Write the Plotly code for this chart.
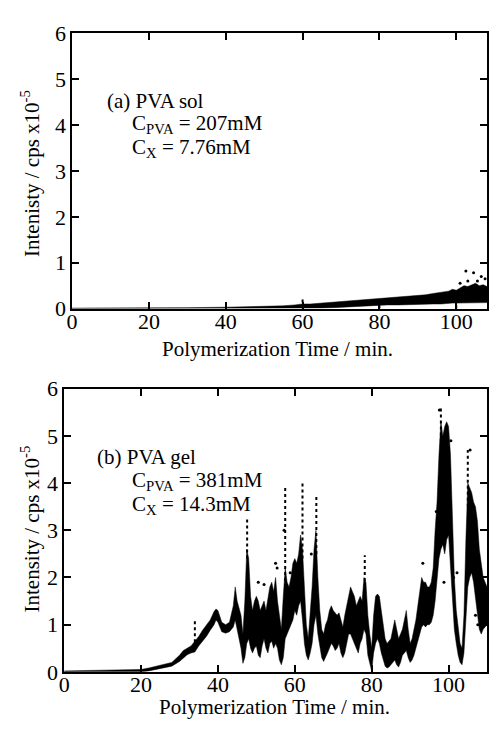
import plotly.graph_objects as go

# ---------------- data: panel (a) PVA sol ----------------
time_a = [0, 10, 20, 30, 40, 45, 50, 55, 58, 60, 62, 65, 68, 70, 72, 75, 78, 80, 82, 85, 88, 90,
          92, 94, 96, 98, 99, 100, 101, 102, 103, 104, 105, 106, 107, 108]
hi_a = [0.01, 0.01, 0.015, 0.02, 0.03, 0.035, 0.05, 0.06, 0.08, 0.1, 0.1, 0.12, 0.14, 0.15, 0.16, 0.18,
        0.2, 0.22, 0.22, 0.25, 0.27, 0.28, 0.3, 0.33, 0.35, 0.38, 0.42, 0.4, 0.45, 0.5, 0.48, 0.52,
        0.55, 0.5, 0.52, 0.48]
lo_a = [0.0, 0.0, 0.0, 0.0, 0.0, 0.0, 0.0, 0.0, 0.0, 0.0, 0.0, 0.01, 0.02, 0.03, 0.04, 0.05,
        0.06, 0.07, 0.08, 0.08, 0.09, 0.1, 0.1, 0.1, 0.1, 0.12, 0.12, 0.12, 0.12, 0.13, 0.13, 0.13,
        0.13, 0.13, 0.13, 0.13]
spike_a_x = [60, 80, 100]
spike_a_lo = [0.0, 0.0, 0.0]
spike_a_hi = [0.2, 0.25, 0.35]
out_a_x = [101.0, 102.5, 103.0, 104.5, 106.5, 107.5, 105.5]
out_a_y = [0.55, 0.82, 0.6, 0.78, 0.7, 0.65, 0.6]

# ---------------- data: panel (b) PVA gel ----------------
time_b = [0, 5, 10, 15, 20, 22, 24, 26, 28, 30, 31, 32, 33, 34, 35, 36, 37, 38, 39, 39.5, 40, 41, 42,
          43, 44, 44.5, 45, 46, 46.5, 47, 47.5, 48, 48.5, 49, 49.5, 50, 50.5, 51, 51.5, 52, 52.5,
          53, 53.5, 54, 54.5, 55, 55.5, 56, 56.5, 57, 57.5, 58, 58.5, 59, 59.5, 60, 60.5, 61, 61.5,
          62, 62.5, 63, 63.5, 64, 64.5, 65, 65.5, 66, 66.5, 67, 67.5, 68, 68.5, 69, 69.5, 70, 70.5,
          71, 71.5, 72, 72.5, 73, 73.5, 74, 74.5, 75, 75.5, 76, 76.5, 77, 77.5, 78, 78.5, 79, 79.5,
          80, 80.5, 81, 81.5, 82, 82.5, 83, 83.5, 84, 84.5, 85, 85.5, 86, 86.5, 87, 87.5, 88, 88.5,
          89, 89.5, 90, 90.5, 91, 91.5, 92, 92.5, 93, 93.5, 94, 94.5, 95, 95.5, 96, 96.5, 97, 97.5,
          98, 98.5, 99, 99.5, 100, 100.5, 101, 101.5, 102, 102.5, 103, 103.5, 104, 104.5, 105,
          105.5, 106, 106.5, 107, 107.5, 108, 108.5, 109, 110]
hi_b = [0.02, 0.03, 0.03, 0.04, 0.05, 0.08, 0.12, 0.16, 0.2, 0.35, 0.45, 0.5, 0.55, 0.65, 0.75,
        0.88, 0.98, 1.1, 1.28, 1.33, 1.3, 1.05, 1.0, 1.05, 1.4, 1.8, 1.5, 1.2, 0.8, 1.5, 2.6, 2.4,
        1.6, 1.3, 1.5, 1.6, 1.5, 1.3, 1.4, 1.5, 1.3, 1.6, 1.8, 1.9, 1.7, 2.0, 1.5, 1.2, 0.9, 1.6,
        2.2, 1.9, 1.8, 2.0, 2.3, 2.4, 2.3, 2.5, 2.9, 2.6, 1.8, 1.0, 0.7, 1.2, 1.8, 2.6, 3.0, 2.0,
        1.3, 0.9, 0.8, 1.0, 1.1, 1.3, 1.4, 1.3, 1.25, 1.2, 1.25, 1.1, 0.95, 1.2, 1.4, 1.6, 1.8,
        1.7, 1.6, 1.4, 1.5, 1.6, 1.5, 2.0, 1.9, 1.2, 0.8, 0.5, 1.2, 1.6, 1.65, 1.6, 1.3, 1.0, 0.7,
        0.6, 0.65, 0.7, 0.9, 1.1, 0.9, 0.7, 0.8, 0.9, 1.1, 1.3, 0.9, 0.6, 0.7, 0.9, 1.1, 1.4, 1.7,
        2.0, 1.9, 1.9, 1.8, 1.8, 1.9, 2.2, 3.0, 3.6, 4.6, 5.3, 5.0, 5.2, 5.3, 5.2, 4.6, 3.2, 2.0,
        1.3, 0.9, 0.6, 0.5, 1.2, 2.8, 4.0, 3.9, 3.8, 3.6, 3.5, 3.2, 2.6, 2.3, 2.0, 1.8]
lo_b = [0.0, 0.0, 0.0, 0.0, 0.0, 0.02, 0.05, 0.09, 0.12, 0.22, 0.3, 0.36, 0.4, 0.42, 0.55, 0.65,
        0.75, 0.88, 1.0, 1.1, 1.05, 0.85, 0.82, 0.85, 0.95, 1.1, 0.9, 0.5, 0.18, 0.3, 0.6, 0.7,
        0.5, 0.4, 0.5, 0.55, 0.35, 0.3, 0.55, 0.7, 0.5, 0.4, 0.6, 0.65, 0.5, 0.6, 0.5, 0.25, 0.15,
        0.3, 0.7, 0.8, 0.9, 1.0, 1.1, 1.3, 1.2, 1.4, 1.5, 1.1, 0.6, 0.35, 0.25, 0.4, 0.6, 1.0, 1.2,
        0.8, 0.5, 0.3, 0.22, 0.3, 0.4, 0.5, 0.6, 0.55, 0.45, 0.5, 0.6, 0.4, 0.3, 0.4, 0.6, 0.8,
        0.8, 0.7, 0.6, 0.5, 0.4, 0.6, 0.7, 0.9, 0.8, 0.35, 0.2, 0.02, 0.4, 0.6, 0.7, 0.6, 0.4, 0.25,
        0.12, 0.08, 0.1, 0.15, 0.2, 0.25, 0.15, 0.1, 0.2, 0.35, 0.4, 0.45, 0.3, 0.2, 0.25, 0.35,
        0.5, 0.65, 0.8, 0.95, 1.0, 0.95, 1.0, 1.0, 1.05, 1.2, 1.5, 2.0, 2.4, 2.6, 2.7, 2.5, 2.8,
        2.9, 2.2, 1.4, 0.9, 0.6, 0.35, 0.2, 0.15, 0.4, 1.1, 1.8, 2.0, 2.1, 1.9, 1.6, 1.3, 0.9, 0.8,
        0.9, 1.0]
spike_b_x = [34, 47.6, 57.5, 62.0, 65.6, 78.2, 98.0, 105.0]
spike_b_lo = [0.5, 2.4, 1.8, 2.4, 2.5, 1.8, 4.5, 3.5]
spike_b_hi = [1.1, 3.25, 3.9, 4.05, 3.75, 2.47, 5.6, 4.7]
out_b_x = [50.5, 52.0, 55.0, 55.4, 57.2, 58.8, 64.3, 93.3, 96.8, 97.6, 99.6, 101.3, 107.0, 107.6,
           108.5, 105.6, 102.2, 98.8, 100.6]
out_b_y = [1.9, 1.85, 2.3, 2.2, 3.0, 2.1, 2.5, 2.3, 3.4, 5.55, 4.8, 2.0, 1.2, 1.0, 0.95, 4.7,
           2.1, 1.9, 4.9]

FONT = "Liberation Serif"
W, H = 489, 737


def band(x, lo, hi, xa, ya):
    return [
        go.Scatter(x=x, y=lo, mode="lines", line=dict(color="black", width=0.5),
                   xaxis=xa, yaxis=ya, showlegend=False, hoverinfo="skip"),
        go.Scatter(x=x, y=hi, mode="lines", line=dict(color="black", width=0.5),
                   fill="tonexty", fillcolor="black",
                   xaxis=xa, yaxis=ya, showlegend=False, hoverinfo="skip"),
    ]


def spikes(sx, slo, shi, xa, ya):
    xs, ys = [], []
    for a, b, c in zip(sx, slo, shi):
        xs += [a, a, None]
        ys += [b, c, None]
    return go.Scatter(x=xs, y=ys, mode="lines", line=dict(color="black", width=2, dash="dot"),
                      xaxis=xa, yaxis=ya, showlegend=False, hoverinfo="skip")


def dots(ox, oy, xa, ya):
    return go.Scatter(x=ox, y=oy, mode="markers", marker=dict(color="black", size=3),
                      xaxis=xa, yaxis=ya, showlegend=False, hoverinfo="skip")


traces = []
traces += band(time_a, lo_a, hi_a, "x", "y")
traces.append(spikes(spike_a_x, spike_a_lo, spike_a_hi, "x", "y"))
traces.append(dots(out_a_x, out_a_y, "x", "y"))
traces += band(time_b, lo_b, hi_b, "x2", "y2")
traces.append(spikes(spike_b_x, spike_b_lo, spike_b_hi, "x2", "y2"))
traces.append(dots(out_b_x, out_b_y, "x2", "y2"))

fig = go.Figure(traces)


def xax(rng, dom, anchor):
    return dict(range=rng, domain=dom, anchor=anchor, showline=True, linecolor="black",
                linewidth=1.5, mirror="allticks", ticks="inside", ticklen=7, tickwidth=1.5,
                tickcolor="black", tick0=0, dtick=20, showgrid=False, zeroline=False,
                ticklabelstandoff=-8,
                tickfont=dict(family=FONT, size=22, color="black"))


def yax(dom, anchor):
    return dict(range=[0, 6], domain=dom, anchor=anchor, showline=True, linecolor="black",
                linewidth=1.5, mirror="allticks", ticks="inside", ticklen=7, tickwidth=1.5,
                tickcolor="black", tick0=0, dtick=1, showgrid=False, zeroline=False,
                tickfont=dict(family=FONT, size=22, color="black"))


def py(p):
    return 1 - p / H


fig.update_layout(
    width=W, height=H, margin=dict(l=0, r=0, t=0, b=0),
    paper_bgcolor="white", plot_bgcolor="white", showlegend=False,
    xaxis=xax([0, 108], [67 / W, 488 / W], "y"),
    yaxis=yax([py(307), py(22)], "x"),
    xaxis2=xax([0, 110], [59 / W, 488 / W], "y2"),
    yaxis2=yax([py(683), py(390)], "x2"),
)

ann = []
tf = dict(family=FONT, size=21, color="black")
# axis titles
ann.append(dict(x=275 / W, y=py(349), text="Polymerization Time / min."))
ann.append(dict(x=272 / W, y=py(719), text="Polymerization Time / min."))
ann.append(dict(x=25 / W, y=py(167), text="Intenisty / cps x10<sup>-5</sup>", textangle=-90))
ann.append(dict(x=25 / W, y=py(535), text="Intensity / cps x10<sup>-5</sup>", textangle=-90))
for a in ann:
    a.update(xref="paper", yref="paper", showarrow=False, font=tf, xanchor="center", yanchor="middle")

lf = dict(family=FONT, size=21, color="black")
labels = [
    (101, 92, "(a) PVA sol"),
    (127, 116, "C<sub>PVA</sub> = 207mM"),
    (127, 141, "C<sub>X</sub> = 7.76mM"),
    (91, 461, "(b) PVA gel"),
    (127, 485, "C<sub>PVA</sub> = 381mM"),
    (127, 510, "C<sub>X</sub> = 14.3mM"),
]
for lx, ly, t in labels:
    ann.append(dict(x=lx / W, y=py(ly), text=t, xref="paper", yref="paper", showarrow=False,
                    font=lf, xanchor="left", yanchor="middle", borderpad=0))

fig.update_layout(annotations=ann)
fig.write_html("out.html")
